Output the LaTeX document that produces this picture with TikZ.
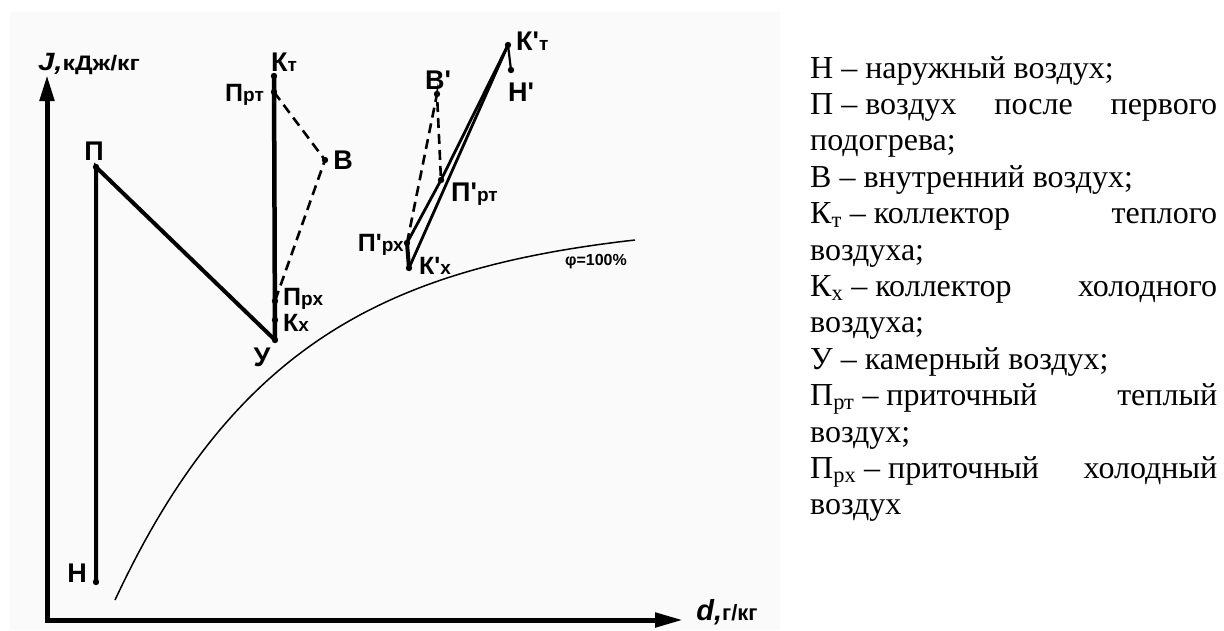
\documentclass[tikz,border=0pt]{standalone}
\usepackage{fontspec}
\usepackage{graphicx}
\setmainfont{Liberation Serif}
\newfontfamily\lf{Liberation Sans}
\usetikzlibrary{arrows.meta}
\definecolor{panel}{HTML}{FAFAFA}
\newcommand\BigL[1]{{\fontsize{27}{27}\selectfont #1}}
\newcommand\MidL[1]{{\fontsize{25}{25}\selectfont #1}}
\newcommand\SmL[1]{{\fontsize{19}{19}\selectfont #1}}
\newcommand\dsh{\hspace{0.25em}–\hspace{0.25em}}
\begin{document}
\begin{tikzpicture}[x=1pt,y=-1pt,
  lab/.style={font=\lf\bfseries, inner sep=0pt},
  axisline/.style={line width=5pt},
  heavy/.style={line width=4pt},
  medline/.style={line width=2.8pt},
  dashline/.style={line width=2.6pt, dash pattern=on 10pt off 6pt},
  curveline/.style={line width=1.5pt},
  txt/.style={anchor=base west, inner sep=0pt, font=\fontsize{32}{36}\selectfont}
  ]
\useasboundingbox (0,0) rectangle (1224,630);
\fill[panel] (10,12) rectangle (780,630);

% coordinates
\coordinate (O) at (47,620);
\coordinate (Ytip) at (47,75);
\coordinate (Xtip) at (683,620);
\coordinate (H) at (96,582);
\coordinate (P) at (96,167);
\coordinate (U) at (275,340);
\coordinate (Kx) at (275,320);
\coordinate (Prx) at (275,301);
\coordinate (Prt) at (274,92);
\coordinate (Kt) at (274,76);
\coordinate (B) at (325,160);
\coordinate (Kt2) at (508,45);
\coordinate (H2) at (511,70);
\coordinate (B2) at (437,94);
\coordinate (Prt2) at (441,180);
\coordinate (Prx2) at (407,243);
\coordinate (Kx2) at (409,268);

% axes
\draw[axisline, {Triangle[length=26pt,width=14pt]}-{Triangle[length=28pt,width=14pt]}] (Ytip) -- (O) -- (Xtip);

% saturation curve (phi = 100%)
\draw[curveline] plot[domain=115:635, samples=90] (\x, {220+380*exp(-0.00566*(\x-115))});

% process lines
\draw[heavy] (H) -- (P) -- (U);
\draw[line width=4.5pt] (U) -- (Kt);
\draw[dashline] (Prt) -- (B) -- (Prx);
\draw[medline] (Prx2) -- (Prt2) -- (Kt2);
\draw[medline] (Kx2) -- (Kt2);
\draw[heavy] (Prx2) -- (Kx2);
\draw[line width=2.2pt] (Kt2) -- (H2);
\draw[dashline] (Prx2) -- (B2) -- (Prt2);

% dots
\foreach \c in {H,P,U,Kx,Prx,Prt,Kt,B,Kt2,H2,B2,Prt2,Prx2,Kx2}
  \fill (\c) circle (3.2pt);

% diagram labels
\node[lab] (lJ) at (89,64) {\scalebox{1.18}[1]{{\fontsize{25}{25}\selectfont\itshape J,}\fontsize{21}{21}\selectfont кДж/кг}};
\node[lab] (ld) at (727,612) {{\fontsize{29}{29}\selectfont\itshape d,}\fontsize{22}{22}\selectfont г/кг};
\node[lab] (lH) at (77,573) {\BigL{Н}};
\node[lab] (lP) at (94,151) {\BigL{П}};
\node[lab] (lU) at (262,357) {\BigL{У}};
\node[lab, anchor=west] (lKx) at (283,323) {\MidL{К}\SmL{х}};
\node[lab, anchor=west] (lPrx) at (283,299) {\MidL{П}\SmL{рх}};
\node[lab, anchor=west] (lKt) at (271,62) {\BigL{К}\SmL{т}};
\node[lab, anchor=east] (lPrt) at (264,95) {\MidL{П}\SmL{рт}};
\node[lab] (lB) at (343,160) {\BigL{В}};
\node[lab, anchor=west] (lKt2) at (516,41) {\BigL{К'}\SmL{т}};
\node[lab] (lH2) at (521,92) {\BigL{Н'}};
\node[lab] (lB2) at (438,80) {\BigL{В'}};
\node[lab, anchor=west] (lPrt2) at (451,194) {\BigL{П'}\SmL{рт}};
\node[lab, anchor=east] (lPrx2) at (404,245) {\MidL{П'}\SmL{рх}};
\node[lab, anchor=west] (lKx2) at (419,266) {\MidL{К'}\SmL{х}};
\node[lab] (lphi) at (596,262) {\fontsize{16}{16}\selectfont φ=100\%};

% legend
\node[txt] (t1) at (810,78) {Н\dsh наружный воздух;};
\node[txt] (t2) at (810,114.4) {\makebox[407pt][s]{П\dsh воздух после первого}};
\node[txt] (t3) at (810,150.8) {подогрева;};
\node[txt] (t4) at (810,187.2) {В\dsh внутренний воздух;};
\node[txt] (t5) at (810,223.6) {\makebox[407pt][s]{К\textsubscript{т}\dsh коллектор теплого}};
\node[txt] (t6) at (810,260) {воздуха;};
\node[txt] (t7) at (810,296.4) {\makebox[407pt][s]{К\textsubscript{х}\dsh коллектор холодного}};
\node[txt] (t8) at (810,332.8) {воздуха;};
\node[txt] (t9) at (810,369.2) {У\dsh камерный воздух;};
\node[txt] (t10) at (810,405.6) {\makebox[407pt][s]{П\textsubscript{рт}\dsh приточный теплый}};
\node[txt] (t11) at (810,442) {воздух;};
\node[txt] (t12) at (810,478.4) {\makebox[407pt][s]{П\textsubscript{рх}\dsh приточный холодный}};
\node[txt] (t13) at (810,514.8) {воздух};
\end{tikzpicture}
\end{document}
